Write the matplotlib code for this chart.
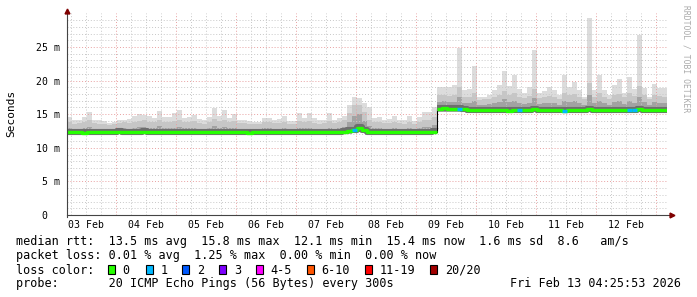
import numpy as np
import matplotlib
matplotlib.use("Agg")
import matplotlib.pyplot as plt
import matplotlib.dates as mdates
import matplotlib.transforms as mtransforms
from matplotlib.patches import Rectangle
from datetime import datetime, timedelta

W, H = 697, 297

# 2h bins, starting at Feb 03 04:25:53
start = datetime(2026, 2, 3, 4, 25, 53)
end = datetime(2026, 2, 13, 4, 25, 53)
step_h = 2

top = [14.6, 14.1, 14.1, 14.6, 15.4, 14.1, 14.1, 14.0, 13.7, 13.9,
       14.2, 14.2, 14.3, 14.8, 15.0, 14.9, 14.8, 14.4, 15.5, 14.6,
       14.6, 15.2, 15.6, 14.4, 14.6, 14.9, 14.3, 14.1, 14.6, 15.9,
       14.8, 15.6, 14.4, 15.0, 14.2, 14.2, 14.0, 13.9, 13.9, 14.4,
       14.5, 14.2, 14.3, 14.7, 14.0, 14.0, 15.2, 14.4, 15.2, 14.4,
       14.2, 14.2, 15.2, 14.2, 14.4, 14.8, 16.4, 17.6, 17.4, 16.6,
       16.0, 14.4, 14.6, 14.2, 14.3, 14.7, 14.2, 14.1, 14.8, 14.0,
       14.6, 15.4, 15.3, 16.1, 19.1, 19.0, 19.0, 19.4, 24.9, 18.6,
       18.8, 22.1, 17.5, 17.6, 17.8, 18.6, 19.3, 21.4, 19.2, 20.8,
       18.8, 18.2, 19.0, 24.5, 18.2, 18.4, 19.0, 18.6, 17.8, 20.8,
       19.1, 19.8, 18.6, 17.5, 29.3, 18.6, 20.8, 18.6, 17.8, 19.3,
       20.2, 18.2, 20.5, 18.8, 26.8, 18.9, 17.5, 19.5, 18.9, 18.9]

mid = [13.8, 13.6, 13.7, 13.9, 14.1, 13.7, 13.6, 13.5, 13.4, 13.5,
       13.7, 13.8, 13.7, 13.9, 14.0, 14.1, 13.9, 13.8, 14.2, 13.8,
       13.9, 14.0, 14.1, 13.8, 13.9, 14.0, 13.7, 13.6, 13.9, 14.3,
       14.0, 14.2, 13.8, 14.0, 13.7, 13.7, 13.6, 13.5, 13.5, 13.8,
       13.8, 13.7, 13.7, 13.9, 13.6, 13.6, 14.0, 13.8, 14.0, 13.7,
       13.6, 13.7, 14.0, 13.7, 13.8, 14.1, 15.2, 16.4, 16.4, 15.4,
       14.2, 13.8, 13.9, 13.7, 13.7, 13.9, 13.7, 13.6, 13.9, 13.6,
       13.8, 14.1, 14.2, 14.6, 17.8, 17.9, 17.7, 17.8, 19.0, 17.6,
       17.6, 18.2, 17.1, 17.2, 17.3, 17.6, 17.8, 18.4, 17.8, 18.2,
       17.6, 17.4, 17.7, 18.8, 17.4, 17.5, 17.7, 17.6, 17.3, 18.2,
       17.8, 18.0, 17.6, 17.2, 19.6, 17.6, 18.1, 17.6, 17.3, 17.8,
       18.0, 17.5, 18.1, 17.7, 19.2, 17.8, 17.2, 17.9, 17.7, 17.6]

dark = [12.9, 12.8, 12.8, 12.9, 13.1, 12.8, 12.8, 12.7, 12.7, 12.8,
        12.9, 12.9, 12.8, 13.0, 13.1, 13.1, 13.0, 12.9, 13.2, 12.9,
        12.9, 13.0, 13.1, 12.9, 12.9, 13.0, 12.8, 12.8, 12.9, 13.2,
        13.0, 13.1, 12.9, 13.0, 12.8, 12.8, 12.7, 12.7, 12.7, 12.9,
        12.9, 12.8, 12.8, 12.9, 12.8, 12.8, 13.0, 12.9, 13.0, 12.8,
        12.8, 12.8, 13.0, 12.8, 12.9, 13.1, 13.8, 14.8, 15.0, 14.0,
        13.2, 12.9, 12.9, 12.8, 12.8, 12.9, 12.8, 12.8, 12.9, 12.8,
        12.9, 13.1, 13.1, 13.4, 16.8, 16.9, 16.8, 16.8, 17.6, 16.7,
        16.6, 17.0, 16.4, 16.4, 16.5, 16.7, 16.8, 17.2, 16.8, 17.0,
        16.7, 16.5, 16.7, 17.4, 16.5, 16.6, 16.7, 16.6, 16.4, 17.0,
        16.8, 16.9, 16.6, 16.4, 17.8, 16.6, 17.0, 16.6, 16.4, 16.8,
        16.9, 16.5, 17.0, 16.7, 17.6, 16.8, 16.4, 16.8, 16.7, 16.6]

low = [12.0, 12.0, 12.0, 12.0, 12.0, 12.0, 12.0, 12.0, 12.0, 12.0,
       12.0, 12.0, 12.0, 12.0, 12.0, 12.0, 12.0, 12.0, 12.0, 12.0,
       12.0, 12.0, 12.0, 12.0, 12.0, 12.0, 12.0, 12.0, 12.0, 12.0,
       12.0, 12.0, 12.0, 12.0, 12.0, 12.0, 12.0, 12.0, 12.0, 12.0,
       12.0, 12.0, 12.0, 12.0, 12.0, 12.0, 12.0, 12.0, 12.0, 12.0,
       12.0, 12.0, 12.0, 12.0, 12.0, 12.0, 12.1, 12.2, 12.4, 12.2,
       12.0, 12.0, 12.0, 12.0, 12.0, 12.0, 12.0, 12.0, 12.0, 12.0,
       12.0, 12.0, 12.0, 12.0, 15.3, 15.3, 15.3, 15.3, 15.3, 15.3,
       15.3, 15.3, 15.3, 15.3, 15.3, 15.3, 15.3, 15.3, 15.3, 15.3,
       15.3, 15.3, 15.3, 15.3, 15.3, 15.3, 15.3, 15.3, 15.3, 15.3,
       15.3, 15.3, 15.3, 15.3, 15.3, 15.3, 15.3, 15.3, 15.3, 15.3,
       15.3, 15.3, 15.3, 15.3, 15.3, 15.3, 15.3, 15.3, 15.3, 15.3]

median = [12.3, 12.3, 12.3, 12.2, 12.3, 12.3, 12.3, 12.3, 12.3, 12.3,
          12.4, 12.3, 12.3, 12.3, 12.3, 12.4, 12.3, 12.3, 12.3, 12.3,
          12.3, 12.3, 12.3, 12.3, 12.3, 12.3, 12.3, 12.3, 12.3, 12.3,
          12.3, 12.3, 12.3, 12.3, 12.3, 12.3, 12.2, 12.3, 12.3, 12.3,
          12.3, 12.3, 12.3, 12.3, 12.3, 12.3, 12.3, 12.3, 12.3, 12.3,
          12.3, 12.3, 12.3, 12.3, 12.3, 12.4, 12.5, 12.6, 13.0, 12.6,
          12.3, 12.3, 12.3, 12.3, 12.3, 12.3, 12.3, 12.3, 12.3, 12.3,
          12.3, 12.3, 12.3, 12.4, 15.8, 15.9, 15.8, 15.8, 15.8, 15.7,
          15.6, 15.6, 15.6, 15.6, 15.6, 15.6, 15.6, 15.6, 15.5, 15.6,
          15.6, 15.6, 15.6, 15.7, 15.6, 15.6, 15.6, 15.6, 15.6, 15.5,
          15.6, 15.6, 15.6, 15.6, 15.7, 15.6, 15.6, 15.6, 15.6, 15.6,
          15.6, 15.6, 15.6, 15.6, 15.7, 15.6, 15.6, 15.6, 15.6, 15.6]

loss = [0, 0, 0, 0, 0, 0, 0, 0, 0, 0,
        0, 0, 0, 0, 0, 0, 0, 0, 0, 0,
        0, 0, 0, 0, 0, 0, 0, 0, 0, 0,
        0, 0, 0, 0, 0, 0, 0, 0, 0, 0,
        0, 0, 0, 0, 0, 0, 0, 0, 0, 0,
        0, 0, 0, 0, 0, 0, 0, 1, 0, 0,
        0, 0, 0, 0, 0, 0, 0, 0, 0, 0,
        0, 0, 0, 0, 0, 0, 0, 0, 1, 0,
        0, 0, 0, 0, 0, 0, 0, 0, 0, 0,
        1, 0, 0, 0, 0, 0, 0, 0, 0, 1,
        0, 0, 0, 0, 0, 0, 0, 0, 0, 0,
        0, 0, 1, 1, 0, 0, 0, 0, 0, 0]

loss_labels = ["0", "1", "2", "3", "4-5", "6-10", "11-19", "20/20"]
loss_colors = ["#26ff00", "#00b8ff", "#0059ff", "#7e00ff", "#ff00ff", "#ff5500", "#ff0000", "#a10000"]

legend_line1 = "median rtt:  13.5 ms avg  15.8 ms max  12.1 ms min  15.4 ms now  1.6 ms sd  8.6   am/s"
legend_line2 = "packet loss: 0.01 % avg  1.25 % max  0.00 % min  0.00 % now"
probe_text = "probe:       20 ICMP Echo Pings (56 Bytes) every 300s"
stamp = "Fri Feb 13 04:25:53 2026"

mono = "DejaVu Sans Mono"
plt.rcParams["font.family"] = mono


def fx(x):
    return x / W


def fy(y):
    return 1 - y / H


def ext(a):
    return np.append(a, a[-1])


n = len(top)
edges = mdates.date2num([start + timedelta(hours=step_h * i) for i in range(n + 1)])
med = np.array(median)

fig = plt.figure(figsize=(W / 100, H / 100), dpi=100)
ax = fig.add_axes([fx(67), fy(215), 600 / W, (215 - 13.4) / H])
ax.set_xlim(mdates.date2num(start), mdates.date2num(end))
ax.set_ylim(0, 30)
for s in ax.spines.values():
    s.set_visible(False)

# smoke
ax.fill_between(edges, ext(low), ext(top), step="post", color="#dcdcdc", lw=0, zorder=1)
ax.fill_between(edges, ext(low), ext(mid), step="post", color="#c6c6c6", lw=0, zorder=1)
ax.fill_between(edges, ext(low), ext(dark), step="post", color="#a2a2a2", lw=0, zorder=1)

# grid
for d in range(3, 14):
    for hh in (0, 6, 12, 18):
        t = mdates.date2num(datetime(2026, 2, d, hh))
        if t <= edges[0] or t >= mdates.date2num(end):
            continue
        c = "#e8a0a0" if hh == 0 else "#c8c8c8"
        ax.axvline(t, color=c, lw=0.7, ls=(0, (1, 2)), zorder=2)
for v in range(1, 30):
    c = "#e8a0a0" if v % 5 == 0 else "#c8c8c8"
    ax.axhline(v, color=c, lw=0.7, ls=(0, (1, 2)), zorder=2)

# black connector (shows at the big jump), then median pieces split at the jump
ax.step(edges, ext(med), where="post", color="black", lw=0.8, zorder=3)
cuts = [0] + list(np.where(np.abs(np.diff(med)) > 1)[0] + 1) + [n]
shade = mtransforms.offset_copy(ax.transData, fig=fig, x=0, y=0.6, units="dots")
for a, b in zip(cuts[:-1], cuts[1:]):
    seg = med[a:b]
    ax.step(edges[a:b + 1], ext(seg), where="post", color="#6e6e6e", lw=4.4,
            zorder=3, transform=shade, solid_capstyle="butt")
    ax.step(edges[a:b + 1], ext(seg), where="post", color=loss_colors[0], lw=2.4,
            zorder=4, solid_capstyle="butt")
lost = [i for i in range(n) if loss[i] > 0]
ax.hlines(med[lost], edges[lost], edges[np.array(lost) + 1],
          colors=[loss_colors[loss[i]] for i in lost], lw=2.4, zorder=5)

# axes + arrows
ax.plot([0, 0], [-0.01, 1.0], transform=ax.transAxes, color="#444444", lw=0.8, clip_on=False, zorder=6)
ax.plot([0, 1.003], [0, 0], transform=ax.transAxes, color="#444444", lw=0.8, clip_on=False, zorder=6)
ax.plot(0, 1.01, marker="^", ms=3.5, color="#7f0000", transform=ax.transAxes, clip_on=False, zorder=7)
ax.plot(1.008, 0, marker=">", ms=3.5, color="#7f0000", transform=ax.transAxes, clip_on=False, zorder=7)

noons = [datetime(2026, 2, d, 12) for d in range(3, 13)]
ax.set_xticks(mdates.date2num(noons))
ax.set_xticklabels([d.strftime("%d %b") for d in noons])
ax.set_yticks([0, 5, 10, 15, 20, 25])
ax.set_yticklabels(["0  ", "5 m", "10 m", "15 m", "20 m", "25 m"])
ax.tick_params(axis="x", length=0, pad=3.5, labelsize=7.1)
ax.tick_params(axis="y", length=0, pad=5, labelsize=7.1)

fig.text(fx(11), fy(113), "Seconds", rotation=90, ha="center", va="center", fontsize=8)
fig.text(fx(686), fy(5), "RRDTOOL / TOBI OETIKER", rotation=270, ha="center", va="top",
         fontsize=5.8, color="#aaaaaa")

# legend
fs = 8.5
fig.text(fx(16), fy(245.3), legend_line1, ha="left", va="baseline", fontsize=fs)
fig.text(fx(16), fy(259.3), legend_line2, ha="left", va="baseline", fontsize=fs)
fig.text(fx(16), fy(273.7), "loss color:", ha="left", va="baseline", fontsize=fs)
box_x = [108, 146, 182, 219, 256, 306.7, 365, 430]
for bx, lab, col in zip(box_x, loss_labels, loss_colors):
    fig.add_artist(Rectangle((fx(bx), fy(273.7)), 7 / W, 9 / H, transform=fig.transFigure,
                             facecolor=col, edgecolor="black", lw=0.8))
    fig.text(fx(bx + 14.7), fy(273.7), lab, ha="left", va="baseline", fontsize=fs)
fig.text(fx(16), fy(287.3), probe_text, ha="left", va="baseline", fontsize=fs)
fig.text(fx(681), fy(287.3), stamp, ha="right", va="baseline", fontsize=fs)

fig.savefig("out.png", dpi=100, facecolor="white")
